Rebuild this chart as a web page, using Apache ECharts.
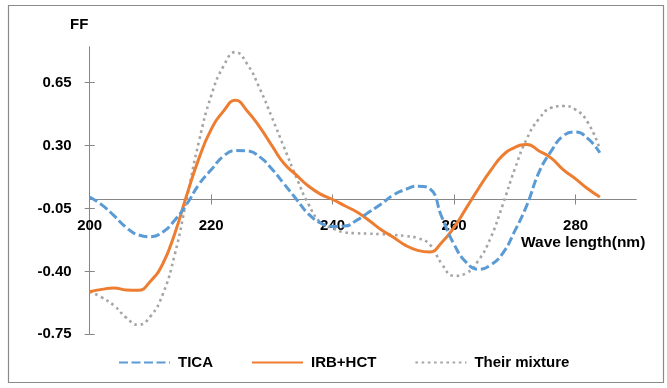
<!DOCTYPE html>
<html>
<head>
<meta charset="utf-8">
<script src="https://cdn.jsdelivr.net/npm/echarts@6/dist/echarts.min.js"></script>
<style>
html,body{margin:0;padding:0;background:#fff;}
#chart{width:667px;height:388px;}
</style>
</head>
<body>
<div id="chart"></div>
<script>
const wavelengths = [200,202,204,206,208,210,212,214,216,218,220,222,224,226,228,230,232,234,236,238,240,242,244,246,248,250,252,254,256,258,260,262,264,266,268,270,272,274,276,278,280,282,284];
const tica = [0.014,-0.03,-0.09,-0.155,-0.197,-0.207,-0.182,-0.115,-0.025,0.085,0.165,0.24,0.272,0.27,0.237,0.17,0.087,0.003,-0.08,-0.13,-0.15,-0.148,-0.115,-0.07,-0.025,0.025,0.056,0.074,0.06,-0.1,-0.25,-0.35,-0.388,-0.365,-0.3,-0.175,-0.03,0.153,0.27,0.355,0.375,0.34,0.26];
const irbHct = [-0.513,-0.5,-0.492,-0.503,-0.505,-0.455,-0.36,-0.19,0.027,0.23,0.39,0.49,0.552,0.49,0.403,0.3,0.2,0.137,0.075,0.03,0.0,-0.035,-0.07,-0.117,-0.168,-0.21,-0.255,-0.283,-0.292,-0.238,-0.155,-0.048,0.06,0.16,0.245,0.29,0.306,0.27,0.23,0.165,0.115,0.06,0.014];
const mixture = [-0.513,-0.545,-0.59,-0.657,-0.697,-0.65,-0.53,-0.307,0.006,0.325,0.577,0.74,0.82,0.75,0.617,0.457,0.29,0.125,-0.025,-0.128,-0.16,-0.183,-0.188,-0.19,-0.193,-0.197,-0.203,-0.215,-0.25,-0.36,-0.425,-0.41,-0.34,-0.215,-0.03,0.17,0.34,0.45,0.51,0.52,0.5,0.43,0.28];
const yTicks = [-0.75,-0.40,-0.05,0.30,0.65];
const xTicks = [200,220,240,260,280];
const seriesNames = ['TICA','IRB+HCT','Their mixture'];

const FONT = "'Liberation Sans', Arial, sans-serif";
const axisGray = '#868686';
const chart = echarts.init(document.getElementById('chart'), null, {renderer:'canvas'});
const pairs = arr => wavelengths.map((w,i)=>[w, arr[i]]);

function xAxisDef(primary, offset){
  return {
    type:'value', min:200, max:290, position:'bottom', offset:offset,
    axisLine:{show:primary, onZero:false, lineStyle:{color:axisGray, width:1}},
    axisTick:{show:true, inside:!primary, length:5, customValues:xTicks, lineStyle:{color:axisGray}},
    axisLabel:{show:primary, customValues:xTicks, margin:19, fontFamily:FONT, fontWeight:'bold', fontSize:15, color:'#000'},
    splitLine:{show:false}
  };
}

const option = {
  animation:false,
  backgroundColor:'#fff',
  grid:{left:89.7, right:30.7, top:46.7, bottom:53.7, containLabel:false},
  legend:{
    left:113, top:350, itemWidth:51, itemHeight:14, itemGap:38,
    data:seriesNames,
    itemStyle:{opacity:0},
    textStyle:{fontFamily:FONT, fontWeight:'bold', fontSize:15, color:'#000', padding:[0,0,0,3]}
  },
  xAxis:[xAxisDef(true,0), xAxisDef(false,0)],
  yAxis:[{
    type:'value', min:-0.75, max:0.85, position:'left',
    axisLine:{show:true, onZero:false, lineStyle:{color:axisGray, width:1}},
    axisTick:{show:true, inside:false, length:5, customValues:yTicks, lineStyle:{color:axisGray}},
    axisLabel:{show:true, customValues:yTicks, margin:18, fontFamily:FONT, fontWeight:'bold', fontSize:15, color:'#000',
      formatter:v=>v.toFixed(2)},
    splitLine:{show:false}
  },{
    type:'value', min:-0.75, max:0.85, position:'left',
    axisLine:{show:false, onZero:false},
    axisTick:{show:true, inside:true, length:5, customValues:yTicks, lineStyle:{color:axisGray}},
    axisLabel:{show:false},
    splitLine:{show:false}
  }],
  graphic:[
    {type:'rect', shape:{x:8.5, y:5.5, width:655, height:377}, style:{fill:'none', stroke:'#8a8a8a', lineWidth:1.2}, silent:true, z:-1},
    {type:'text', left:70, top:17, style:{text:'FF', font:"bold 15px 'Liberation Sans', Arial, sans-serif", fill:'#000'}},
    {type:'text', left:521, top:235, style:{text:'Wave length(nm)', font:"bold 15.5px 'Liberation Sans', Arial, sans-serif", fill:'#000'}}
  ],
  series:[
    {name:seriesNames[0], type:'line', data:pairs(tica), smooth:0.5, symbol:'none',
      lineStyle:{color:'#5B9BD5', width:3, type:[9,3.5]}, itemStyle:{color:'#5B9BD5'}, z:3},
    {name:seriesNames[1], type:'line', data:pairs(irbHct), smooth:0.5, symbol:'none',
      lineStyle:{color:'#ED7D31', width:3, type:'solid'}, itemStyle:{color:'#ED7D31'}, z:2},
    {name:seriesNames[2], type:'line', data:pairs(mixture), smooth:0.5, symbol:'none',
      lineStyle:{color:'#A5A5A5', width:2.6, type:[2.6,3.6]}, itemStyle:{color:'#A5A5A5'}, z:1}
  ]
};
chart.setOption(option);
// move the x axis to the value 0 of the y axis, using the library's own scale
const yZero = chart.convertToPixel({yAxisIndex:0}, 0);
const yBottom = chart.convertToPixel({yAxisIndex:0}, -0.75);
const off = yZero - yBottom;
chart.setOption({xAxis:[{offset:off},{offset:off}]});
</script>
</body>
</html>
